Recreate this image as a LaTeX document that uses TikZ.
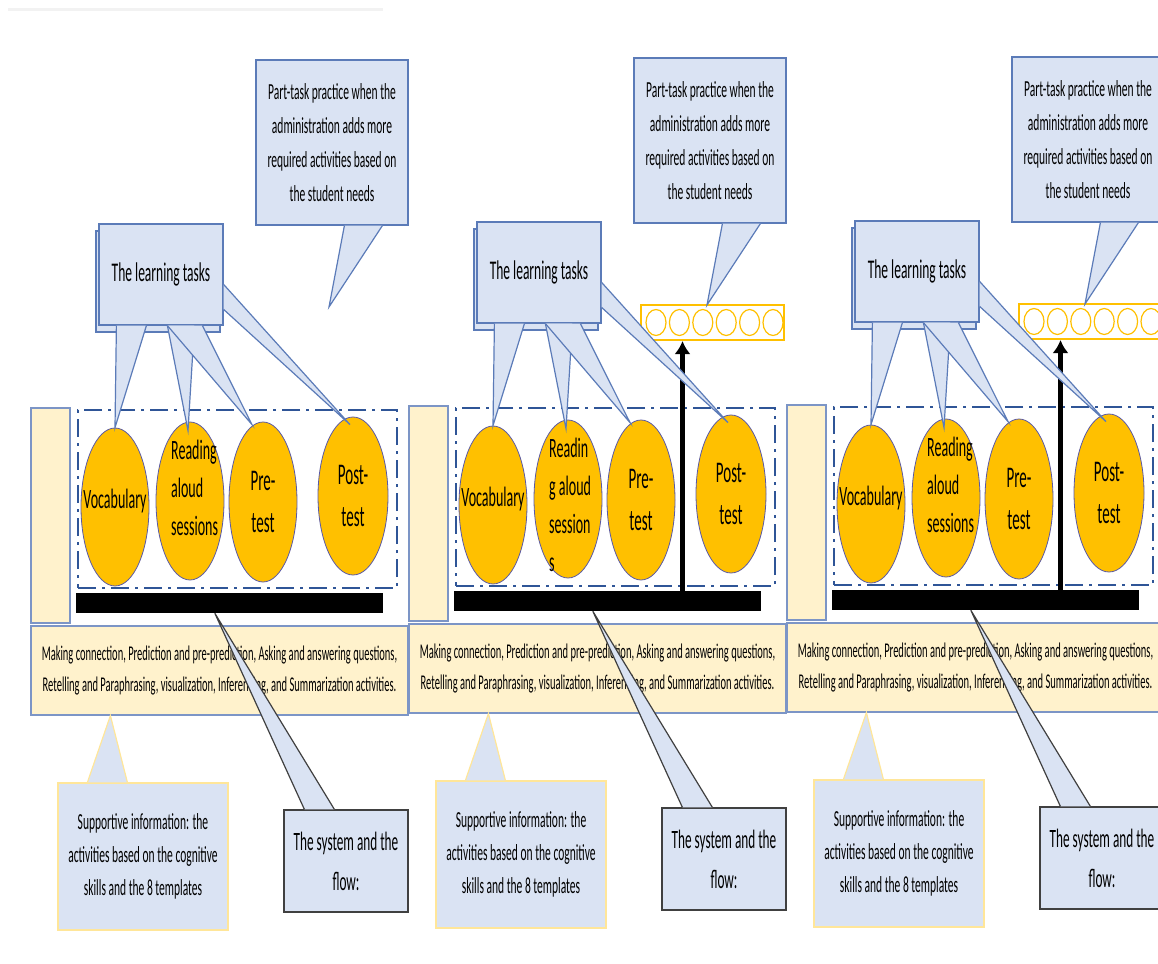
\documentclass[tikz,border=0pt]{standalone}
\usepackage{fontspec}
\setmainfont{Carlito}[FakeStretch=0.5]
\usetikzlibrary{shapes.geometric,shadows,arrows.meta}

\definecolor{calloutblue}{HTML}{DAE3F3}
\definecolor{edgeblue}{HTML}{5B7BB8}
\definecolor{paleyellow}{HTML}{FFF2CC}
\definecolor{taskorange}{HTML}{FFC000}
\definecolor{framenavy}{HTML}{2F5597}
\definecolor{supedge}{HTML}{FFE699}

\tikzset{
  notebox/.style={rectangle, fill=calloutblue, draw=edgeblue, line width=1.2pt, inner sep=0pt, align=center, text=black},
  calltail/.style={fill=calloutblue, draw=edgeblue, line width=1.2pt},
  paleband/.style={rectangle, fill=paleyellow, draw=edgeblue!80, line width=1.2pt, inner sep=0pt, text=black},
  task/.style={ellipse, fill=taskorange, draw=gray!70!blue, line width=0.8pt, inner sep=0pt},
  tasklabel/.style={inner sep=0pt, align=center, font=\fontsize{28}{38}\selectfont},
  dashframe/.style={rectangle, draw=framenavy, line width=2.5pt, dash pattern=on 18pt off 6pt on 3pt off 6pt, inner sep=0pt},
  flowbar/.style={rectangle, fill=black, inner sep=0pt},
  beadrow/.style={rectangle, draw=taskorange, line width=2pt, fill=white, inner sep=0pt},
  beadring/.style={draw=taskorange, line width=1.2pt},
  flowarrow/.style={draw=black, line width=5pt, -{Latex[length=13pt,width=16pt]}}
}

\begin{document}
\begin{tikzpicture}[x=1pt,y=-1pt]
\useasboundingbox (0,0) rectangle (1158,963);
\clip (0,0) rectangle (1158,963);
\draw[black!5, line width=3pt] (8,10) -- (383,10);
\foreach \i/\dx/\dy/\rl in {1/0/0/{Reading\\aloud\\sessions}, 2/378/-2/{Readin\\g aloud\\session\\s}, 3/756/-3/{Reading\\aloud\\sessions}}{
\begin{scope}[shift={(\dx,\dy)}]
  \node[paleband, minimum width=39pt, minimum height=215pt] (strip\i) at (50.5,515.5) {};
  \node[paleband, minimum width=377pt, minimum height=89pt, align=center, font=\fontsize{21}{31}\selectfont] (info\i) at (219.5,670.5) {Making connection, Prediction and pre-prediction, Asking and answering questions,\\Retelling and Paraphrasing, visualization, Inferencing, and Summarization activities.};
  \node[dashframe, minimum width=319pt, minimum height=178pt] (frame\i) at (237.5,499) {};
  \node[task, minimum width=68pt, minimum height=158pt] (voc\i) at (115,507) {};
  \node[task, minimum width=68pt, minimum height=158pt] (read\i) at (190,501) {};
  \node[task, minimum width=68pt, minimum height=160pt] (pre\i) at (263,502) {};
  \node[task, minimum width=70pt, minimum height=158pt] (post\i) at (353,496) {};
  \node[tasklabel] at ([yshift=6pt]voc\i.center) {Vocabulary};
  \node[tasklabel, align=left, anchor=north west] at (171,440) {\rl};
  \node[tasklabel, font=\fontsize{30}{42}\selectfont] at (pre\i) {Pre-\\test};
  \node[tasklabel, font=\fontsize{30}{42}\selectfont] at (post\i) {Post-\\test};
  \node[flowbar, minimum width=307pt, minimum height=20pt] (bar\i) at (229.5,603) {};
  \ifnum\i>1
    \node[beadrow, minimum width=143pt, minimum height=35pt] (beads\i) at (334.5,324.5) {};
    \foreach \k in {0,...,5}
      \draw[beadring] ([xshift=16pt+\k*23.4pt]beads\i.west) ellipse [x radius=10pt, y radius=13pt];
    \coordinate (up\i) at ([xshift=-30pt]beads\i.south);
    \draw[flowarrow] (bar\i.north -| up\i) -- (up\i);
  \fi
  \coordinate (ptip\i) at (329,307);
  \node[notebox, minimum width=152pt, minimum height=165pt, font=\fontsize{23}{34}\selectfont] (part\i) at (332,142.5) {Part-task practice when the\\administration adds more\\required activities based on\\the student needs};
  \filldraw[calltail] ([xshift=89pt]part\i.south west) -- (ptip\i) -- ([xshift=127pt]part\i.south west);
  \node[notebox, copy shadow={shadow xshift=-3pt, shadow yshift=-7pt, fill=calloutblue, draw=edgeblue}, minimum width=124pt, minimum height=101pt, font=\fontsize{27}{34}\selectfont] (lt\i) at (161,274.5) {The learning tasks};
  \filldraw[calltail] ([xshift=18pt]lt\i.south west) -- (voc\i.north) -- ([xshift=48pt]lt\i.south west);
  \filldraw[calltail] ([xshift=69pt]lt\i.south west) -- ([xshift=-2pt,yshift=-9pt]read\i.north) -- ([xshift=96pt]lt\i.south west);
  \filldraw[calltail] ([xshift=69pt]lt\i.south west) -- ([xshift=-11pt,yshift=-3pt]pre\i.north) -- ([xshift=104pt]lt\i.south west);
  \filldraw[calltail] ([yshift=-61pt]lt\i.north east) -- ([xshift=-3pt,yshift=-8pt]post\i.north) -- ([yshift=-86pt]lt\i.north east);
  \node[notebox, draw=supedge, minimum width=170pt, minimum height=147pt, font=\fontsize{23}{33}\selectfont] (sup\i) at (143,856.5) {Supportive information: the\\activities based on the cognitive\\skills and the 8 templates};
  \filldraw[calltail, draw=supedge] ([xshift=30pt]sup\i.north west) -- ([xshift=80pt]info\i.south west) -- ([xshift=70pt]sup\i.north west);
  \node[notebox, draw=black!75, minimum width=124pt, minimum height=102pt, font=\fontsize{26.5}{40}\selectfont] (sys\i) at (346,861) {The system and the\\flow:};
  \filldraw[calltail, draw=black!75] ([xshift=21pt]sys\i.north west) -- ([xshift=139pt]bar\i.south west) -- ([xshift=51pt]sys\i.north west);
\end{scope}
}
\end{tikzpicture}
\end{document}
